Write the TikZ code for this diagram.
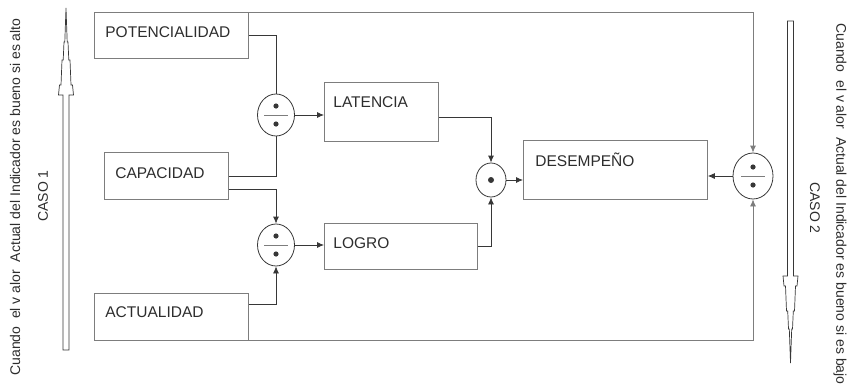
\documentclass[tikz,border=0pt]{standalone}
\usepackage{fontspec}
\setmainfont{Liberation Sans}
\usepackage{tikz}
\usetikzlibrary{shapes.geometric, arrows.meta, positioning}
\definecolor{trazo}{RGB}{55,55,55}
\definecolor{marco}{RGB}{125,125,125}
\definecolor{texto}{RGB}{45,45,45}
\tikzset{
  caja/.style={rectangle, draw=marco, inner xsep=11pt, inner ysep=0pt,
               text height=25pt, text depth=21pt, align=left, text=texto,
               font=\fontsize{15.5}{18}\selectfont},
  divop/.style={ellipse, draw=trazo, minimum width=37pt, minimum height=42pt, inner sep=0pt,
               path picture={
                 \fill[trazo] ([yshift=9pt]path picture bounding box.center) circle (2.6pt);
                 \fill[trazo] ([yshift=-9pt]path picture bounding box.center) circle (2.6pt);
                 \draw[marco] ([xshift=-12pt]path picture bounding box.center)
                              -- ([xshift=12pt]path picture bounding box.center);}},
  prodop/.style={ellipse, draw=trazo, minimum width=30pt, minimum height=34pt, inner sep=0pt,
               path picture={\fill[trazo] (path picture bounding box.center) circle (3pt);}},
  flecha/.style={-{Latex[length=7pt, width=6pt]}, trazo},
  enlace/.style={trazo},
  lado/.style={text=texto, font=\fontsize{14}{16}\selectfont},
  hueca/.pic={
    \draw[trazo, line width=0.7pt, fill=white] (0,0) -- (1.2,34) -- (2,34) -- (2.8,52) -- (4,52)
      -- (5,77) -- (6.5,77) -- (7.5,87) -- (3,87) -- (3,342) -- (-3,342) -- (-3,87)
      -- (-7.5,87) -- (-6.5,77) -- (-5,77) -- (-4,52) -- (-2.8,52) -- (-2,34) -- (-1.2,34) -- cycle;}
}
\begin{document}
\begin{tikzpicture}[x=1pt, y=-1pt, line width=0.8pt]
    \useasboundingbox (0,0) rectangle (848,383);
    % cajas
    \node[caja, text width=132pt, anchor=north west] (pot) at (94,12) {POTENCIALIDAD};
    \node[caja, text width=102pt, text height=26pt, anchor=north west] (cap) at (104,152) {CAPACIDAD};
    \node[caja, text width=132pt, text height=24pt, text depth=23pt, anchor=north west] (act) at (94,293) {ACTUALIDAD};
    \node[caja, text width=96pt, inner xsep=9pt, text depth=34pt, anchor=north west] (lat) at (324,82) {LATENCIA};
    \node[caja, text width=135pt, inner xsep=9pt, anchor=north west] (logro) at (324,223) {LOGRO};
    \node[caja, text width=160pt, inner xsep=12pt, text height=26pt, text depth=33pt, anchor=north west] (des) at (523,140) {DESEMPEÑO};
    % operadores
    \node[divop] (div1) at (276,115) {};
    \node[divop] (div2) at (276,245) {};
    \node[prodop] (prod) at (491,180) {};
    \node[divop, minimum width=40pt, minimum height=46pt] (div3) at (753,176) {};
    % conexiones
    \draw[enlace] (pot.east) -| (div1.north);
    \draw[enlace] (cap.east) -| (div1.south);
    \draw[flecha] ([yshift=-13pt]cap.east) -| (div2.north);
    \draw[flecha] ([yshift=-11pt]act.north east) -| (div2.south);
    \draw[flecha] (div1.east) -- (div1.east -| lat.west);
    \draw[flecha] (div2.east) -- (div2.east -| logro.west);
    \draw[flecha] ([yshift=-5pt]lat.east) -| (prod.north);
    \draw[flecha] (logro.east) -| (prod.south);
    \draw[flecha] (prod.east) -- (prod.east -| des.west);
    \draw[flecha] (div3.west) -- (div3.west -| des.east);
    \draw[flecha, draw=marco] (pot.north east) -| (div3.north);
    \draw[flecha, draw=marco] (act.south east) -| (div3.south);
    % casos
    \pic at (66,8) {hueca};
    \pic[rotate=180] at (790.5,363) {hueca};
    \node[lado, rotate=90] (txt1) at (15,197) {Cuando\ \ el v alor\ \ Actual del Indicador es bueno si es alto};
    \node[lado, rotate=90] (caso1) at (43,196) {CASO 1};
    \node[lado, rotate=-90] (txt2) at (840,204) {Cuando\ \ el v alor\ \ Actual del Indicador es bueno si es bajo};
    \node[lado, rotate=-90] (caso2) at (815,208) {CASO 2};
\end{tikzpicture}
\end{document}
